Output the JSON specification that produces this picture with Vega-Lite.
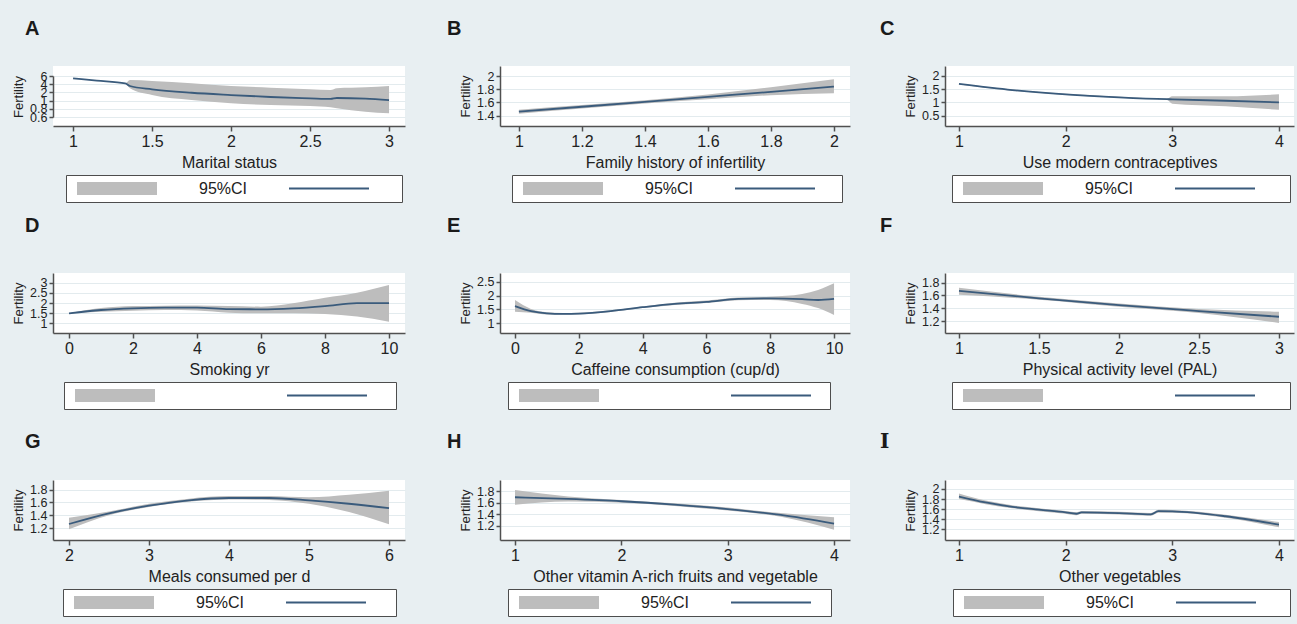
{
"$schema": "https://vega.github.io/schema/vega-lite/v6.json",
"background": "#e8eff2",
"padding": {"left": 12, "top": 19, "right": 0, "bottom": 7},
"bounds": "flush",
"spacing": 207,
"resolve": {"scale": {"fill": "independent", "stroke": "independent"}, "legend": {"fill": "independent", "stroke": "independent"}},
"vconcat": [
{"hconcat": [
{"width": 352, "height": 60, "title": {"text": "A", "dx": -28, "offset": 27},
 "data": {"values": [
  {"x": 1.0, "fit": 5.44, "lo": 5.44, "hi": 5.44},
  {"x": 1.15, "fit": 4.88, "lo": 4.88, "hi": 4.88},
  {"x": 1.33, "fit": 4.22, "lo": 4.22, "hi": 4.22},
  {"x": 1.36, "fit": 3.56, "lo": 3.0, "hi": 5.02},
  {"x": 1.5, "fit": 2.76, "lo": 1.68, "hi": 4.78},
  {"x": 1.75, "fit": 1.96, "lo": 1.07, "hi": 4.22},
  {"x": 2.0, "fit": 1.68, "lo": 0.934, "hi": 3.56},
  {"x": 2.25, "fit": 1.44, "lo": 0.893, "hi": 3.15},
  {"x": 2.5, "fit": 1.28, "lo": 0.868, "hi": 2.76},
  {"x": 2.63, "fit": 1.2, "lo": 0.837, "hi": 2.59},
  {"x": 2.67, "fit": 1.32, "lo": 0.812, "hi": 3.0},
  {"x": 2.85, "fit": 1.24, "lo": 0.73, "hi": 3.24},
  {"x": 3.0, "fit": 1.07, "lo": 0.69, "hi": 3.56}
 ]},
 "layer": [
  {"mark": {"type": "area", "opacity": 1, "interpolate": "monotone"},
   "encoding": {
    "x": {"field": "x", "type": "quantitative", "scale": {"domain": [0.873, 3.101], "nice": false, "zero": false}, "axis": {"values": [1, 1.5, 2, 2.5, 3], "title": "Marital status"}},
    "y": {"field": "lo", "type": "quantitative", "scale": {"domain": [0.6, 0.8, 1, 2, 4, 6], "range": [51, 42.8, 34.6, 26.4, 18.2, 10], "nice": false, "zero": false}, "axis": {"values": [0.6, 0.8, 1, 2, 4, 6], "title": "Fertility"}},
    "y2": {"field": "hi"},
    "fill": {"datum": "95%CI", "type": "nominal", "scale": {"domain": ["95%CI", "pad"], "range": ["#bdbdbd", "transparent"]},
     "legend": {"title": null, "legendX": 13, "legendY": 109, "symbolType": "M-1,-0.1625H1V0.1625H-1Z", "columnPadding": 21, "labelExpr": "datum.label == '95%CI' ? '95%CI' : ''"}}
   }},
  {"mark": {"type": "line", "strokeWidth": 1.8, "interpolate": "monotone"},
   "encoding": {"x": {"field": "x", "type": "quantitative"}, "y": {"field": "fit", "type": "quantitative"},
    "stroke": {"datum": "Fitted", "type": "nominal", "scale": {"domain": ["Fitted"], "range": ["#3a5b7c"]},
     "legend": {"title": null, "legendX": 225, "legendY": 109, "symbolType": "stroke", "symbolStrokeWidth": 1.8, "labelExpr": "''", "strokeColor": "transparent", "fillColor": "transparent"}}}}
 ]},
{"width": 350, "height": 60, "title": {"text": "B", "dx": -53, "offset": 27},
 "data": {"values": [
  {"x": 1.0, "fit": 1.46, "lo": 1.43, "hi": 1.49},
  {"x": 1.2, "fit": 1.535, "lo": 1.51, "hi": 1.56},
  {"x": 1.4, "fit": 1.61, "lo": 1.585, "hi": 1.635},
  {"x": 1.6, "fit": 1.685, "lo": 1.65, "hi": 1.72},
  {"x": 1.8, "fit": 1.76, "lo": 1.71, "hi": 1.83},
  {"x": 2.0, "fit": 1.84, "lo": 1.74, "hi": 1.95}
 ]},
 "layer": [
  {"mark": {"type": "area", "opacity": 1, "interpolate": "monotone"},
   "encoding": {
    "x": {"field": "x", "type": "quantitative", "scale": {"domain": [0.94, 2.051], "nice": false, "zero": false}, "axis": {"values": [1, 1.2, 1.4, 1.6, 1.8, 2], "title": "Family history of infertility"}},
    "y": {"field": "lo", "type": "quantitative", "scale": {"domain": [1.244, 2.152], "nice": false, "zero": false}, "axis": {"values": [1.4, 1.6, 1.8, 2], "title": "Fertility"}},
    "y2": {"field": "hi"},
    "fill": {"datum": "95%CI", "type": "nominal", "scale": {"domain": ["95%CI", "pad"], "range": ["#bdbdbd", "transparent"]},
     "legend": {"title": null, "legendX": 12, "legendY": 109, "symbolType": "M-1,-0.1625H1V0.1625H-1Z", "columnPadding": 15, "labelExpr": "datum.label == '95%CI' ? '95%CI' : ''"}}
   }},
  {"mark": {"type": "line", "strokeWidth": 1.8, "interpolate": "monotone"},
   "encoding": {"x": {"field": "x", "type": "quantitative"}, "y": {"field": "fit", "type": "quantitative"},
    "stroke": {"datum": "Fitted", "type": "nominal", "scale": {"domain": ["Fitted"], "range": ["#3a5b7c"]},
     "legend": {"title": null, "legendX": 224, "legendY": 109, "symbolType": "stroke", "symbolStrokeWidth": 1.8, "labelExpr": "''", "strokeColor": "transparent", "fillColor": "transparent"}}}}
 ]},
{"width": 349, "height": 60, "title": {"text": "C", "dx": -65, "offset": 27},
 "data": {"values": [
  {"x": 1.0, "fit": 1.69, "lo": 1.67, "hi": 1.71},
  {"x": 1.5, "fit": 1.46, "lo": 1.44, "hi": 1.48},
  {"x": 2.0, "fit": 1.3, "lo": 1.28, "hi": 1.32},
  {"x": 2.5, "fit": 1.19, "lo": 1.17, "hi": 1.21},
  {"x": 2.95, "fit": 1.12, "lo": 1.1, "hi": 1.14},
  {"x": 3.0, "fit": 1.115, "lo": 0.95, "hi": 1.23},
  {"x": 3.5, "fit": 1.06, "lo": 0.85, "hi": 1.23},
  {"x": 4.0, "fit": 1.0, "lo": 0.72, "hi": 1.3}
 ]},
 "layer": [
  {"mark": {"type": "area", "opacity": 1, "interpolate": "monotone"},
   "encoding": {
    "x": {"field": "x", "type": "quantitative", "scale": {"domain": [0.869, 4.141], "nice": false, "zero": false}, "axis": {"values": [1, 2, 3, 4], "title": "Use modern contraceptives"}},
    "y": {"field": "lo", "type": "quantitative", "scale": {"domain": [0.114, 2.364], "nice": false, "zero": false}, "axis": {"values": [0.5, 1, 1.5, 2], "title": "Fertility"}},
    "y2": {"field": "hi"},
    "fill": {"datum": "95%CI", "type": "nominal", "scale": {"domain": ["95%CI", "pad"], "range": ["#bdbdbd", "transparent"]},
     "legend": {"title": null, "legendX": 7, "legendY": 109, "symbolType": "M-1,-0.1625H1V0.1625H-1Z", "columnPadding": 23, "labelExpr": "datum.label == '95%CI' ? '95%CI' : ''"}}
   }},
  {"mark": {"type": "line", "strokeWidth": 1.8, "interpolate": "monotone"},
   "encoding": {"x": {"field": "x", "type": "quantitative"}, "y": {"field": "fit", "type": "quantitative"},
    "stroke": {"datum": "Fitted", "type": "nominal", "scale": {"domain": ["Fitted"], "range": ["#3a5b7c"]},
     "legend": {"title": null, "legendX": 219, "legendY": 109, "symbolType": "stroke", "symbolStrokeWidth": 1.8, "labelExpr": "''", "strokeColor": "transparent", "fillColor": "transparent"}}}}
 ]}
], "spacing": 95, "bounds": "flush", "resolve": {"scale": {"fill": "independent", "stroke": "independent"}, "legend": {"fill": "independent", "stroke": "independent"}}},
{"hconcat": [
{"width": 352, "height": 60, "title": {"text": "D", "dx": -28, "offset": 37},
 "data": {"values": [
  {"x": 0, "fit": 1.49, "lo": 1.49, "hi": 1.49},
  {"x": 1, "fit": 1.655, "lo": 1.57, "hi": 1.75},
  {"x": 2, "fit": 1.74, "lo": 1.62, "hi": 1.85},
  {"x": 3, "fit": 1.77, "lo": 1.65, "hi": 1.87},
  {"x": 4, "fit": 1.77, "lo": 1.63, "hi": 1.88},
  {"x": 5, "fit": 1.7, "lo": 1.52, "hi": 1.85},
  {"x": 6, "fit": 1.69, "lo": 1.49, "hi": 1.82},
  {"x": 7, "fit": 1.74, "lo": 1.5, "hi": 1.99},
  {"x": 8, "fit": 1.85, "lo": 1.46, "hi": 2.26},
  {"x": 9, "fit": 1.99, "lo": 1.33, "hi": 2.51},
  {"x": 10, "fit": 1.99, "lo": 1.08, "hi": 2.89}
 ]},
 "layer": [
  {"mark": {"type": "area", "opacity": 1, "interpolate": "monotone"},
   "encoding": {
    "x": {"field": "x", "type": "quantitative", "scale": {"domain": [-0.5, 10.5], "nice": false, "zero": false}, "axis": {"values": [0, 2, 4, 6, 8, 10], "title": "Smoking yr"}},
    "y": {"field": "lo", "type": "quantitative", "scale": {"domain": [0.522, 3.478], "nice": false, "zero": false}, "axis": {"values": [1, 1.5, 2, 2.5, 3], "title": "Fertility"}},
    "y2": {"field": "hi"},
    "fill": {"datum": "95%CI", "type": "nominal", "scale": {"domain": ["95%CI", "pad"], "range": ["#bdbdbd", "transparent"]},
     "legend": {"title": null, "legendX": 11, "legendY": 109, "labelOpacity": 0, "symbolType": "M-1,-0.1625H1V0.1625H-1Z", "columnPadding": 17, "labelExpr": "datum.label == '95%CI' ? '95%CI' : ''"}}
   }},
  {"mark": {"type": "line", "strokeWidth": 1.8, "interpolate": "monotone"},
   "encoding": {"x": {"field": "x", "type": "quantitative"}, "y": {"field": "fit", "type": "quantitative"},
    "stroke": {"datum": "Fitted", "type": "nominal", "scale": {"domain": ["Fitted"], "range": ["#3a5b7c"]},
     "legend": {"title": null, "legendX": 223, "legendY": 109, "symbolType": "stroke", "symbolStrokeWidth": 1.8, "labelExpr": "''", "strokeColor": "transparent", "fillColor": "transparent"}}}}
 ]},
{"width": 350, "height": 60, "title": {"text": "E", "dx": -53, "offset": 37},
 "data": {"values": [
  {"x": 0, "fit": 1.62, "lo": 1.42, "hi": 1.84},
  {"x": 0.5, "fit": 1.44, "lo": 1.38, "hi": 1.52},
  {"x": 1, "fit": 1.36, "lo": 1.32, "hi": 1.4},
  {"x": 1.5, "fit": 1.34, "lo": 1.31, "hi": 1.37},
  {"x": 2, "fit": 1.35, "lo": 1.32, "hi": 1.38},
  {"x": 3, "fit": 1.44, "lo": 1.41, "hi": 1.47},
  {"x": 4, "fit": 1.58, "lo": 1.55, "hi": 1.61},
  {"x": 5, "fit": 1.7, "lo": 1.66, "hi": 1.74},
  {"x": 6, "fit": 1.77, "lo": 1.73, "hi": 1.82},
  {"x": 7, "fit": 1.88, "lo": 1.83, "hi": 1.93},
  {"x": 8, "fit": 1.9, "lo": 1.84, "hi": 1.96},
  {"x": 9, "fit": 1.87, "lo": 1.7, "hi": 2.06},
  {"x": 9.5, "fit": 1.84, "lo": 1.55, "hi": 2.2},
  {"x": 10, "fit": 1.88, "lo": 1.3, "hi": 2.44}
 ]},
 "layer": [
  {"mark": {"type": "area", "opacity": 1, "interpolate": "monotone"},
   "encoding": {
    "x": {"field": "x", "type": "quantitative", "scale": {"domain": [-0.47, 10.5], "nice": false, "zero": false}, "axis": {"values": [0, 2, 4, 6, 8, 10], "title": "Caffeine consumption (cup/d)"}},
    "y": {"field": "lo", "type": "quantitative", "scale": {"domain": [0.65, 2.814], "nice": false, "zero": false}, "axis": {"values": [1, 1.5, 2, 2.5], "title": "Fertility"}},
    "y2": {"field": "hi"},
    "fill": {"datum": "95%CI", "type": "nominal", "scale": {"domain": ["95%CI", "pad"], "range": ["#bdbdbd", "transparent"]},
     "legend": {"title": null, "legendX": 8, "legendY": 109, "labelOpacity": 0, "symbolType": "M-1,-0.1625H1V0.1625H-1Z", "columnPadding": 7, "labelExpr": "datum.label == '95%CI' ? '95%CI' : ''"}}
   }},
  {"mark": {"type": "line", "strokeWidth": 1.8, "interpolate": "monotone"},
   "encoding": {"x": {"field": "x", "type": "quantitative"}, "y": {"field": "fit", "type": "quantitative"},
    "stroke": {"datum": "Fitted", "type": "nominal", "scale": {"domain": ["Fitted"], "range": ["#3a5b7c"]},
     "legend": {"title": null, "legendX": 220, "legendY": 109, "symbolType": "stroke", "symbolStrokeWidth": 1.8, "labelExpr": "''", "strokeColor": "transparent", "fillColor": "transparent"}}}}
 ]},
{"width": 349, "height": 60, "title": {"text": "F", "dx": -65, "offset": 37},
 "data": {"values": [
  {"x": 1.0, "fit": 1.673, "lo": 1.61, "hi": 1.72},
  {"x": 1.5, "fit": 1.555, "lo": 1.535, "hi": 1.58},
  {"x": 2.0, "fit": 1.45, "lo": 1.425, "hi": 1.475},
  {"x": 2.5, "fit": 1.356, "lo": 1.325, "hi": 1.39},
  {"x": 3.0, "fit": 1.267, "lo": 1.17, "hi": 1.345}
 ]},
 "layer": [
  {"mark": {"type": "area", "opacity": 1, "interpolate": "monotone"},
   "encoding": {
    "x": {"field": "x", "type": "quantitative", "scale": {"domain": [0.9125, 3.094], "nice": false, "zero": false}, "axis": {"values": [1, 1.5, 2, 2.5, 3], "title": "Physical activity level (PAL)"}},
    "y": {"field": "lo", "type": "quantitative", "scale": {"domain": [1.0125, 1.952], "nice": false, "zero": false}, "axis": {"values": [1.2, 1.4, 1.6, 1.8], "title": "Fertility"}},
    "y2": {"field": "hi"},
    "fill": {"datum": "95%CI", "type": "nominal", "scale": {"domain": ["95%CI", "pad"], "range": ["#bdbdbd", "transparent"]},
     "legend": {"title": null, "legendX": 7, "legendY": 109, "labelOpacity": 0, "symbolType": "M-1,-0.1625H1V0.1625H-1Z", "columnPadding": 23, "labelExpr": "datum.label == '95%CI' ? '95%CI' : ''"}}
   }},
  {"mark": {"type": "line", "strokeWidth": 1.8, "interpolate": "monotone"},
   "encoding": {"x": {"field": "x", "type": "quantitative"}, "y": {"field": "fit", "type": "quantitative"},
    "stroke": {"datum": "Fitted", "type": "nominal", "scale": {"domain": ["Fitted"], "range": ["#3a5b7c"]},
     "legend": {"title": null, "legendX": 219, "legendY": 109, "symbolType": "stroke", "symbolStrokeWidth": 1.8, "labelExpr": "''", "strokeColor": "transparent", "fillColor": "transparent"}}}}
 ]}
], "spacing": 95, "bounds": "flush", "resolve": {"scale": {"fill": "independent", "stroke": "independent"}, "legend": {"fill": "independent", "stroke": "independent"}}},
{"hconcat": [
{"width": 352, "height": 60, "title": {"text": "G", "dx": -28, "offset": 28},
 "data": {"values": [
  {"x": 2.0, "fit": 1.263, "lo": 1.18, "hi": 1.36},
  {"x": 2.5, "fit": 1.43, "lo": 1.4, "hi": 1.46},
  {"x": 3.0, "fit": 1.55, "lo": 1.53, "hi": 1.58},
  {"x": 3.5, "fit": 1.634, "lo": 1.61, "hi": 1.66},
  {"x": 4.0, "fit": 1.67, "lo": 1.645, "hi": 1.7},
  {"x": 4.5, "fit": 1.67, "lo": 1.64, "hi": 1.7},
  {"x": 5.0, "fit": 1.634, "lo": 1.58, "hi": 1.68},
  {"x": 5.5, "fit": 1.58, "lo": 1.45, "hi": 1.72},
  {"x": 6.0, "fit": 1.51, "lo": 1.26, "hi": 1.785}
 ]},
 "layer": [
  {"mark": {"type": "area", "opacity": 1, "interpolate": "monotone"},
   "encoding": {
    "x": {"field": "x", "type": "quantitative", "scale": {"domain": [1.8, 6.2], "nice": false, "zero": false}, "axis": {"values": [2, 3, 4, 5, 6], "title": "Meals consumed per d"}},
    "y": {"field": "lo", "type": "quantitative", "scale": {"domain": [1.0125, 1.952], "nice": false, "zero": false}, "axis": {"values": [1.2, 1.4, 1.6, 1.8], "title": "Fertility"}},
    "y2": {"field": "hi"},
    "fill": {"datum": "95%CI", "type": "nominal", "scale": {"domain": ["95%CI", "pad"], "range": ["#bdbdbd", "transparent"]},
     "legend": {"title": null, "legendX": 10, "legendY": 109, "symbolType": "M-1,-0.1625H1V0.1625H-1Z", "columnPadding": 18, "labelExpr": "datum.label == '95%CI' ? '95%CI' : ''"}}
   }},
  {"mark": {"type": "line", "strokeWidth": 1.8, "interpolate": "monotone"},
   "encoding": {"x": {"field": "x", "type": "quantitative"}, "y": {"field": "fit", "type": "quantitative"},
    "stroke": {"datum": "Fitted", "type": "nominal", "scale": {"domain": ["Fitted"], "range": ["#3a5b7c"]},
     "legend": {"title": null, "legendX": 222, "legendY": 109, "symbolType": "stroke", "symbolStrokeWidth": 1.8, "labelExpr": "''", "strokeColor": "transparent", "fillColor": "transparent"}}}}
 ]},
{"width": 350, "height": 60, "title": {"text": "H", "dx": -53, "offset": 28},
 "data": {"values": [
  {"x": 1.0, "fit": 1.696, "lo": 1.567, "hi": 1.823},
  {"x": 1.5, "fit": 1.666, "lo": 1.62, "hi": 1.71},
  {"x": 2.0, "fit": 1.626, "lo": 1.6, "hi": 1.65},
  {"x": 2.5, "fit": 1.567, "lo": 1.545, "hi": 1.59},
  {"x": 3.0, "fit": 1.49, "lo": 1.465, "hi": 1.515},
  {"x": 3.5, "fit": 1.387, "lo": 1.355, "hi": 1.42},
  {"x": 4.0, "fit": 1.235, "lo": 1.13, "hi": 1.346}
 ]},
 "layer": [
  {"mark": {"type": "area", "opacity": 1, "interpolate": "monotone"},
   "encoding": {
    "x": {"field": "x", "type": "quantitative", "scale": {"domain": [0.859, 4.15], "nice": false, "zero": false}, "axis": {"values": [1, 2, 3, 4], "title": "Other vitamin A-rich fruits and vegetable"}},
    "y": {"field": "lo", "type": "quantitative", "scale": {"domain": [0.95, 1.997], "nice": false, "zero": false}, "axis": {"values": [1.2, 1.4, 1.6, 1.8], "title": "Fertility"}},
    "y2": {"field": "hi"},
    "fill": {"datum": "95%CI", "type": "nominal", "scale": {"domain": ["95%CI", "pad"], "range": ["#bdbdbd", "transparent"]},
     "legend": {"title": null, "legendX": 8, "legendY": 109, "symbolType": "M-1,-0.1625H1V0.1625H-1Z", "columnPadding": 8, "labelExpr": "datum.label == '95%CI' ? '95%CI' : ''"}}
   }},
  {"mark": {"type": "line", "strokeWidth": 1.8, "interpolate": "monotone"},
   "encoding": {"x": {"field": "x", "type": "quantitative"}, "y": {"field": "fit", "type": "quantitative"},
    "stroke": {"datum": "Fitted", "type": "nominal", "scale": {"domain": ["Fitted"], "range": ["#3a5b7c"]},
     "legend": {"title": null, "legendX": 220, "legendY": 109, "symbolType": "stroke", "symbolStrokeWidth": 1.8, "labelExpr": "''", "strokeColor": "transparent", "fillColor": "transparent"}}}}
 ]},
{"width": 349, "height": 60, "title": {"text": "I", "dx": -65, "offset": 28, "font": "DejaVu Serif"},
 "data": {"values": [
  {"x": 1.0, "fit": 1.851, "lo": 1.8, "hi": 1.91},
  {"x": 1.25, "fit": 1.733, "lo": 1.7, "hi": 1.77},
  {"x": 1.5, "fit": 1.647, "lo": 1.62, "hi": 1.68},
  {"x": 1.75, "fit": 1.59, "lo": 1.56, "hi": 1.62},
  {"x": 2.0, "fit": 1.537, "lo": 1.51, "hi": 1.565},
  {"x": 2.1, "fit": 1.51, "lo": 1.48, "hi": 1.54},
  {"x": 2.15, "fit": 1.537, "lo": 1.51, "hi": 1.565},
  {"x": 2.5, "fit": 1.523, "lo": 1.495, "hi": 1.55},
  {"x": 2.8, "fit": 1.498, "lo": 1.47, "hi": 1.525},
  {"x": 2.87, "fit": 1.56, "lo": 1.53, "hi": 1.59},
  {"x": 3.0, "fit": 1.557, "lo": 1.53, "hi": 1.585},
  {"x": 3.5, "fit": 1.46, "lo": 1.43, "hi": 1.49},
  {"x": 4.0, "fit": 1.294, "lo": 1.24, "hi": 1.345}
 ]},
 "layer": [
  {"mark": {"type": "area", "opacity": 1, "interpolate": "monotone"},
   "encoding": {
    "x": {"field": "x", "type": "quantitative", "scale": {"domain": [0.869, 4.141], "nice": false, "zero": false}, "axis": {"values": [1, 2, 3, 4], "title": "Other vegetables"}},
    "y": {"field": "lo", "type": "quantitative", "scale": {"domain": [0.99, 2.178], "nice": false, "zero": false}, "axis": {"values": [1.2, 1.4, 1.6, 1.8, 2], "title": "Fertility"}},
    "y2": {"field": "hi"},
    "fill": {"datum": "95%CI", "type": "nominal", "scale": {"domain": ["95%CI", "pad"], "range": ["#bdbdbd", "transparent"]},
     "legend": {"title": null, "legendX": 8, "legendY": 109, "symbolType": "M-1,-0.1625H1V0.1625H-1Z", "columnPadding": 22, "labelExpr": "datum.label == '95%CI' ? '95%CI' : ''"}}
   }},
  {"mark": {"type": "line", "strokeWidth": 1.8, "interpolate": "monotone"},
   "encoding": {"x": {"field": "x", "type": "quantitative"}, "y": {"field": "fit", "type": "quantitative"},
    "stroke": {"datum": "Fitted", "type": "nominal", "scale": {"domain": ["Fitted"], "range": ["#3a5b7c"]},
     "legend": {"title": null, "legendX": 220, "legendY": 109, "symbolType": "stroke", "symbolStrokeWidth": 1.8, "labelExpr": "''", "strokeColor": "transparent", "fillColor": "transparent"}}}}
 ]}
], "spacing": 95, "bounds": "flush", "resolve": {"scale": {"fill": "independent", "stroke": "independent"}, "legend": {"fill": "independent", "stroke": "independent"}}}
],
"config": {
 "font": "Liberation Sans",
 "view": {"fill": "white", "stroke": null},
 "axis": {"domainColor": "#505050", "domainWidth": 1.5, "tickColor": "#505050", "tickWidth": 1.5, "labelColor": "#222222", "titleColor": "#222222", "titleFontWeight": "normal", "labelFont": "Liberation Sans", "titleFont": "Liberation Sans", "labelOverlap": false, "labelFlush": false, "labelBound": false, "format": "~r"},
 "axisX": {"grid": false, "tickSize": 5, "tickCount": 20, "labelFontSize": 16, "labelPadding": 2, "titleFontSize": 16, "titlePadding": 5},
 "axisY": {"grid": true, "gridColor": "#e3ebee", "gridWidth": 1, "tickSize": 4, "tickCount": 20, "labelFontSize": 12.5, "labelPadding": 2, "titleFontSize": 13, "titlePadding": 4},
 "legend": {"orient": "none", "direction": "horizontal", "strokeColor": "#4d4d4d", "fillColor": "white", "padding": 5, "symbolSize": 6400, "clipHeight": 17, "symbolOffset": 5, "labelOffset": 41, "columnPadding": 28, "labelFontSize": 16, "labelFont": "Liberation Sans", "labelColor": "#222222", "labelLimit": 400},
 "title": {"fontSize": 20, "fontWeight": "bold", "anchor": "start", "frame": "group", "color": "#1a1a1a", "baseline": "alphabetic", "font": "Liberation Sans"}
}
}
